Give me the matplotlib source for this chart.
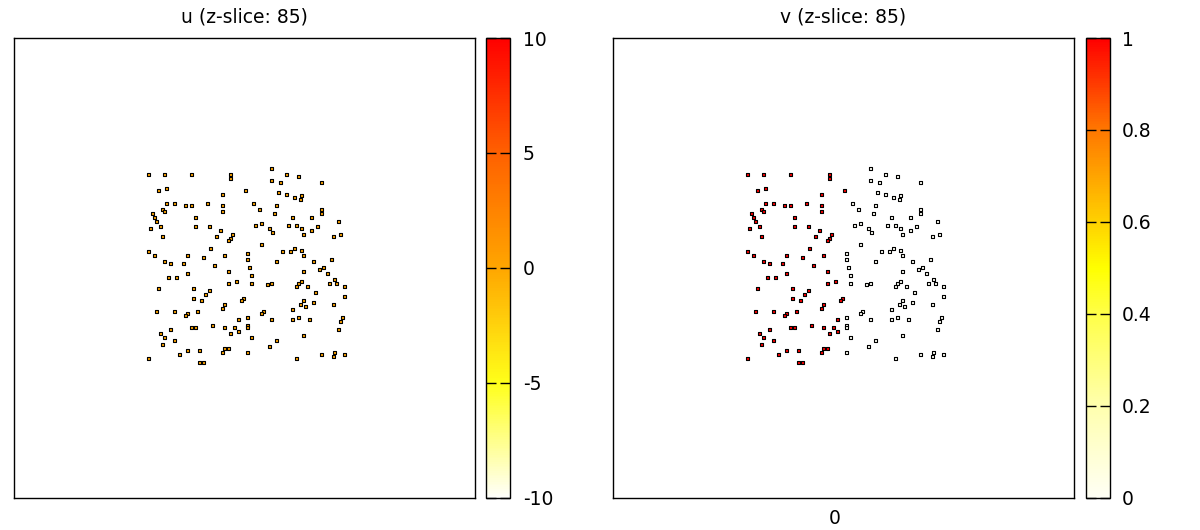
import matplotlib
matplotlib.use("Agg")
import matplotlib.pyplot as plt
import numpy as np
from matplotlib.colors import LinearSegmentedColormap, Normalize
from matplotlib.cm import ScalarMappable

# sample positions in the z-slice (grid units)
x_pos = [
    -43.5, -35.5, -22, -2.5, -2.5, -38.5, -34.5, 5, -6.5, -34.5,
    -30.5, -25, -22, -14, -6.5, -36.5, -35.5, -6.5, -41.5, -40.5,
    -20, -39.5, -42.5, -37.5, -20, -13, -7.5, -36.5, -9.5, -1.5,
    -2.5, -3.5, -12.5, -43.5, -40.5, -24, -16, -5.5, 6, 6,
    -35.5, -32.5, -26, -10.5, 18, 25.5, 31.5, 18, 22.5, 43,
    21.5, 25.5, 33, 29.5, 32.5, 9, 20.5, 12, 43, 43,
    19.5, 28.5, 38, 51.5, 10, 13, 26.5, 30.5, 41, 17,
    33, 38, 18.5, 34, 52.5, 49, 13, 29.5, 23.5, 27.5,
    33, 34, 20.5, 39, 48, 7, -24, -3.5, -33.5, -29.5,
    -3.5, 0.5, -38.5, -21, -13, -15, -21, -17, 4, 3,
    -5.5, -6.5, -39.5, -30.5, -24, -25, -19, 1.5, 6, -22,
    -20, -11.5, -5.5, -0.5, 6, 6, -32.5, -37.5, -2.5, 1.5,
    -35.5, -30.5, -36.5, -5.5, -3.5, -24, -18, -6.5, 6, -28,
    -43.5, -18, -16, 34, 42, 44, 46, 8, 8, 16,
    18, 31.5, 33, 30.5, 36, 49.5, 47, 50.5, 54.5, 40,
    54.5, 34, 32.5, 39, 35, 49, 28.5, 14, 13, 18,
    28.5, 31.5, 37, 53.5, 52.5, 51.5, 8, 34, 20.5, 17,
    49.5, 43, 49, 54.5, 30.5,
]
y_pos = [
    47, 47, 47, 47, 45, 39, 40, 39, 37, 32.5,
    32.5, 31.5, 31.5, 32.5, 31.5, 29.5, 28.5, 28.5, 27.5, 25.5,
    25.5, 23.5, 20, 21, 21, 21, 19, 16, 16, 17,
    15, 14, 10, 8.5, 6.5, 6.5, 5.5, 6.5, 7.5, 4.5,
    3.5, 2.5, 2.5, 1.5, 50, 47, 46, 44, 43, 43,
    38, 37, 36.5, 35.5, 34.5, 32.5, 31.5, 29.5, 29.5, 27.5,
    27.5, 25.5, 25.5, 23.5, 21.5, 22.5, 21.5, 21.5, 21, 20,
    20, 19, 18, 17, 17, 16, 12, 10, 8.5, 8.5,
    9, 6.5, 3.5, 3.5, 4.5, 0.5, -2.5, -1.5, -4.5, -4.5,
    -7.5, -6.5, -10, -10, -11, -13, -15, -16, -15, -16,
    -18, -20, -21.5, -21.5, -22.5, -23.5, -21.5, -25.5, -24.5, -29.5,
    -29.5, -28.5, -29.5, -29.5, -28.5, -29.5, -30.5, -32.5, -32.5, -31.5,
    -34.5, -36, -38, -40, -40, -41, -41, -42, -42, -43,
    -45, -47, -47, -1.5, -0.5, 0.5, -2.5, -3.5, -7.5, -8,
    -7.5, -7.5, -6.5, -9, -9, -5.5, -7.5, -7.5, -9, -12,
    -14, -16, -18, -17, -19, -18, -20.5, -21.5, -22.5, -25.5,
    -25.5, -24.5, -25.5, -24.5, -26.5, -30.5, -34.5, -33.5, -36, -39,
    -42, -43, -44, -43, -45,
]

# u values at the samples (all sit near 0 -> orange)
u_vals = [
    0, 0, 0, 0, 0, 0, 0, 0, 0, 0, 0, 0, 0, 0, 0, 0, 0, 0, 0, 0,
    0, 0, 0, 0, 0, 0, 0, 0, 0, 0, 0, 0, 0, 0, 0, 0, 0, 0, 0, 0,
    0, 0, 0, 0, 0, 0, 0, 0, 0, 0, 0, 0, 0, 0, 0, 0, 0, 0, 0, 0,
    0, 0, 0, 0, 0, 0, 0, 0, 0, 0, 0, 0, 0, 0, 0, 0, 0, 0, 0, 0,
    0, 0, 0, 0, 0, 0, 0, 0, 0, 0, 0, 0, 0, 0, 0, 0, 0, 0, 0, 0,
    0, 0, 0, 0, 0, 0, 0, 0, 0, 0, 0, 0, 0, 0, 0, 0, 0, 0, 0, 0,
    0, 0, 0, 0, 0, 0, 0, 0, 0, 0, 0, 0, 0, 0, 0, 0, 0, 0, 0, 0,
    0, 0, 0, 0, 0, 0, 0, 0, 0, 0, 0, 0, 0, 0, 0, 0, 0, 0, 0, 0,
    0, 0, 0, 0, 0, 0, 0, 0, 0, 0, 0, 0, 0, 0, 0,
]
# v values: red (1) on the left half, white (0) on the right
v_vals = [
    1, 1, 1, 1, 1, 1, 1, 1, 1, 1, 1, 1, 1, 1, 1, 1, 1, 1, 1, 1,
    1, 1, 1, 1, 1, 1, 1, 1, 1, 1, 1, 1, 1, 1, 1, 1, 1, 1, 0, 0,
    1, 1, 1, 1, 0, 0, 0, 0, 0, 0, 0, 0, 0, 0, 0, 0, 0, 0, 0, 0,
    0, 0, 0, 0, 0, 0, 0, 0, 0, 0, 0, 0, 0, 0, 0, 0, 0, 0, 0, 0,
    0, 0, 0, 0, 0, 0, 1, 1, 1, 1, 1, 1, 1, 1, 1, 1, 1, 1, 1, 1,
    1, 1, 1, 1, 1, 1, 1, 1, 0, 1, 1, 1, 1, 1, 0, 0, 1, 1, 1, 1,
    1, 1, 1, 1, 1, 1, 1, 1, 0, 1, 1, 1, 1, 0, 0, 0, 0, 0, 0, 0,
    0, 0, 0, 0, 0, 0, 0, 0, 0, 0, 0, 0, 0, 0, 0, 0, 0, 0, 0, 0,
    0, 0, 0, 0, 0, 0, 0, 0, 0, 0, 0, 0, 0, 0, 0,
]

titles = ["u (z-slice: 85)", "v (z-slice: 85)"]
u_ticks = [-10, -5, 0, 5, 10]
v_ticks = [0, 0.2, 0.4, 0.6, 0.8, 1]
v_tick_labels = ["0", "0.2", "0.4", "0.6", "0.8", "1"]

x_lim = (-110.65, 119.85)
y_lim = (-114.85, 115.15)

plt.rcParams['font.family'] = ['DejaVu Sans']
fs = 13.5

u_cmap = LinearSegmentedColormap.from_list("u_map", [
    (0.0, (1.0, 1.0, 0.98)),
    (0.25, (1.0, 1.0, 0.1)),
    (0.5, (1.0, 0.65, 0.0)),
    (0.75, (1.0, 0.38, 0.0)),
    (1.0, (1.0, 0.0, 0.0)),
])
v_cmap = LinearSegmentedColormap.from_list("v_map", [
    (0.0, (1.0, 1.0, 0.96)),
    (0.2, (1.0, 1.0, 0.68)),
    (0.4, (1.0, 1.0, 0.28)),
    (0.5, (1.0, 1.0, 0.0)),
    (0.6, (1.0, 0.82, 0.0)),
    (0.8, (1.0, 0.47, 0.0)),
    (1.0, (1.0, 0.0, 0.0)),
])

fig = plt.figure(figsize=(12, 5.3), dpi=100)

panels = [
    (u_vals, u_cmap, Normalize(-10, 10), u_ticks, [str(t) for t in u_ticks], 0.01167, 0.4054, 0.0200),
    (v_vals, v_cmap, Normalize(0, 1), v_ticks, v_tick_labels, 0.51083, 0.9054, 0.0192),
]

bottom, height = 0.0604, 0.8679
for i, (vals, cmap, norm, ticks, tlabels, ax_x, cb_x, cb_w) in enumerate(panels):
    ax = fig.add_axes([ax_x, bottom, 0.38417, height])
    ax.scatter(x_pos, y_pos, c=vals, cmap=cmap, norm=norm, marker='s', s=6,
               edgecolors='black', linewidths=0.8)
    ax.set_xlim(*x_lim)
    ax.set_ylim(*y_lim)
    ax.set_yticks([])
    if i == 1:
        ax.set_xticks([0])
        ax.tick_params(axis='x', length=0, pad=8, labelsize=fs)
    else:
        ax.set_xticks([])
    for sp in ax.spines.values():
        sp.set_linewidth(1.0)
    ax.set_title(titles[i], fontsize=fs, pad=11)

    cax = fig.add_axes([cb_x, bottom, cb_w, height])
    cb = fig.colorbar(ScalarMappable(norm=norm, cmap=cmap), cax=cax)
    cb.set_ticks(ticks)
    cb.set_ticklabels(tlabels)
    cb.outline.set_linewidth(1.0)
    cax.tick_params(direction='in', length=7.5, width=1.0, left=True, right=True,
                    labelleft=False, labelright=True, pad=9, labelsize=fs)

fig.savefig("out.png", dpi=100)
